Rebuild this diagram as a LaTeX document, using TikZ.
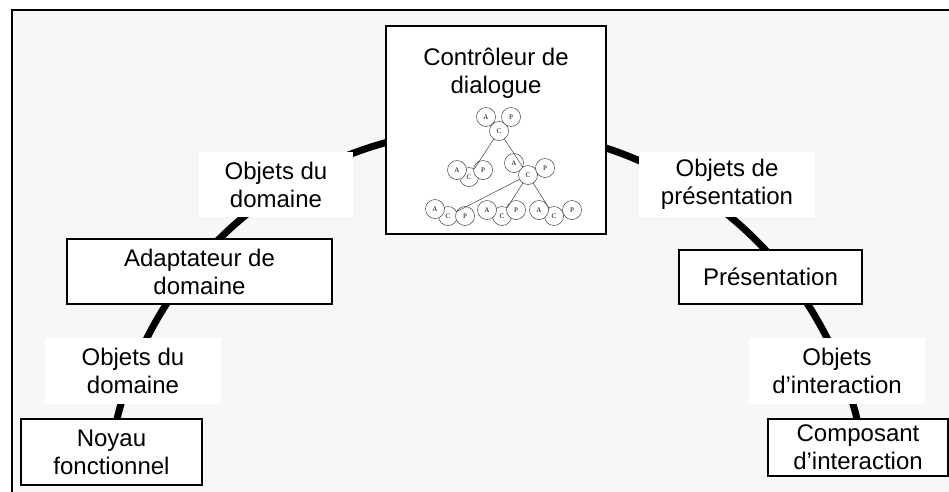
\documentclass[tikz,border=0pt]{standalone}
\usepackage{fontspec}
\setmainfont{Liberation Sans}
\newfontfamily\treefont{Liberation Serif}
\definecolor{paper}{HTML}{F7F7F7}

\begin{document}
\begin{tikzpicture}[x=1pt,y=-1pt,
      box/.style={draw,line width=1.6pt,fill=white,align=center,inner sep=0pt,
        font=\fontsize{24}{28}\selectfont},
      tag/.style={fill=white,align=center,inner sep=0pt,font=\fontsize{24}{28}\selectfont},
      ring/.style={line width=7pt},
      acp/.style={circle,draw=black!75,line width=0.5pt,fill=white,minimum size=19pt,
        inner sep=0pt,font=\treefont\fontsize{7}{7}\selectfont},
      twig/.style={black!75,line width=0.5pt}]
      \useasboundingbox (0,0) rectangle (949,491);
      \clip (0,0) rectangle (949,491);
      \draw[line width=2pt,fill=paper](12,10)rectangle(990,530);
      % thick ring behind the boxes
      \coordinate (hub) at (487,510);
      \draw[ring](hub)++(174:381pt)arc[start angle=174,end angle=6,radius=381pt];
      \node[box,minimum width=220pt,minimum height=208pt] (ctrl) at (496,130) {};
      \node[tag,fill=none,anchor=north] (ctrltxt) at (496,48) {Contrôleur de\\dialogue};
      \node[box,minimum width=265pt,minimum height=65pt] (adapt) at (199.5,271.5) {Adaptateur de\\domaine};
      \node[box,minimum width=181pt,minimum height=66pt] (noyau) at (111.5,452) {Noyau\\fonctionnel};
      \node[box,minimum width=183pt,minimum height=54pt] (pres) at (770.5,277) {Présentation};
      \node[box,minimum width=180pt,minimum height=57pt] (comp) at (858,447.5) {Composant\\d’interaction};
      \node[tag,minimum width=154pt,minimum height=65pt] (odom1) at (276,184.5) {Objets du\\domaine};
      \node[tag,minimum width=176pt,minimum height=66pt] (odom2) at (133,371) {Objets du\\domaine};
      \node[tag,minimum width=176pt,minimum height=65pt] (opres) at (727,184.5) {Objets de\\présentation};
      \node[tag,minimum width=176pt,minimum height=66pt] (oint) at (837,371) {Objets\\d’interaction};
      % small A-C-P tree
      \foreach \g/\cx/\cy/\ax/\ay/\px/\py in {t/499/131/486/117/511/117,
          l/469/177/457/170/483/170, r/528/175/514/163/545/168,
          b1/448/216/435/209/465/216, b2/502/216/487/210/516/210, b3/554/216/539/210/572/210}{
        \node[acp] (\g-c) at (\cx,\cy) {C};
        \node[acp] (\g-a) at (\ax,\ay) {A};
        \node[acp] (\g-p) at (\px,\py) {P};
      }
      \foreach \s/\d in {t/l,t/r,r/b1,r/b2,r/b3}
        \draw[twig](\s-c)--(\d-c);
    \end{tikzpicture}
\end{document}
